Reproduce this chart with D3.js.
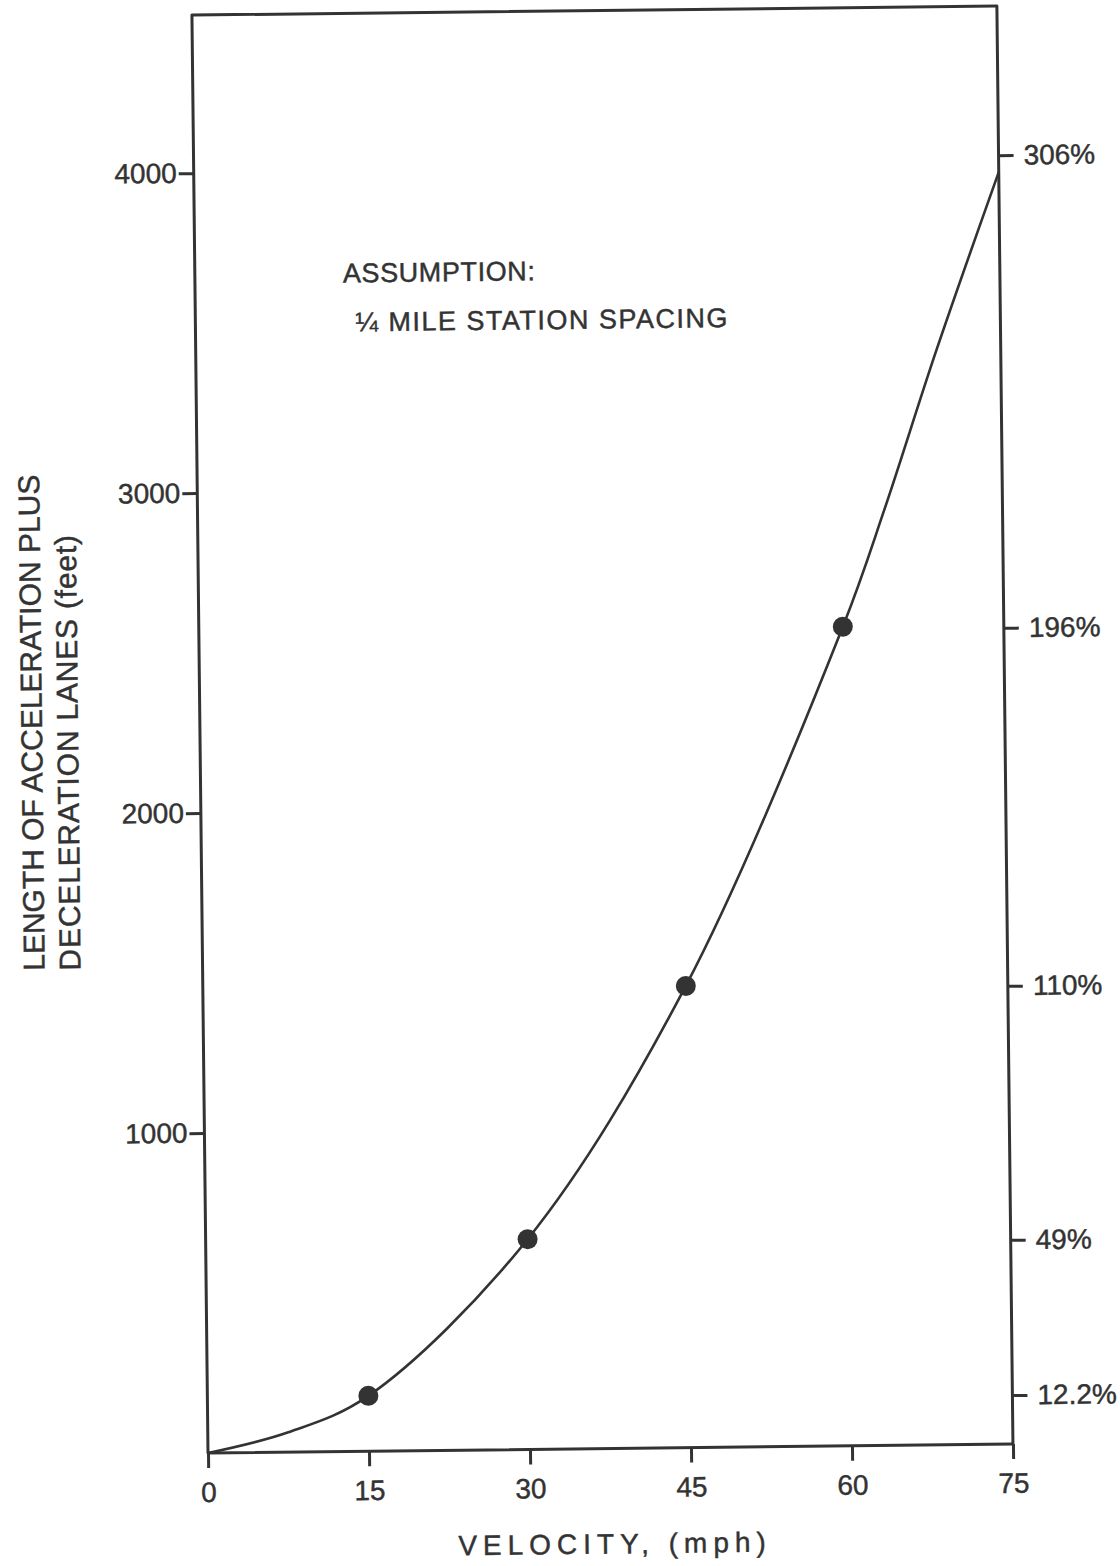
<!DOCTYPE html>
<html>
<head>
<meta charset="utf-8">
<script src="https://cdn.jsdelivr.net/npm/d3@7"></script>
<style>
  html, body { margin: 0; padding: 0; background: #fff; }
  svg { display: block; }
  text { font-family: "Liberation Sans", Arial, Helvetica, sans-serif; fill: #333; stroke: #333; stroke-width: 0.45px; }
</style>
</head>
<body>
<svg id="chart" width="1120" height="1566"></svg>
<script>
// Velocity axis ticks (mph)
const velocityTicks = [0, 15, 30, 45, 60, 75];
// Lane length axis ticks (feet)
const lengthTicks = [1000, 2000, 3000, 4000];

// Computed stations (dots)
const pointSpeeds = [15, 30, 45, 60];
const pointLengths = [173, 657, 1443, 2560];

// Smooth curve through the stations, out to 75 mph
const curveSpeeds = [0, 7.5, 15, 30, 45, 60, 64, 69, 75];
const curveLengths = [0, 62, 173, 657, 1443, 2560, 2925, 3420, 3975];

// Right-hand scale: length as a share of the 1/4 mile station spacing
const percentLabels = ["12.2%", "49%", "110%", "196%", "306%"];
const percentPositions = [153, 638, 1432, 2551, 4028];

const ink = "#333";
const plotLeft = 208, plotRight = 1013, plotTop = 15, plotBottom = 1453;

const svg = d3.select("#chart");
const g = svg.append("g").attr("transform", `rotate(-0.64 ${plotLeft} ${plotBottom})`);

const x = d3.scaleLinear().domain([0, 75]).range([plotLeft, plotRight]);
const y = d3.scaleLinear().domain([0, 4494]).range([plotBottom, plotTop]);

const fontFamily = "'Liberation Sans', Arial, sans-serif";

// Frame
g.append("path")
  .attr("d", `M${plotLeft},${plotBottom} V${plotTop} H${plotRight} V${plotBottom} Z`)
  .attr("fill", "none").attr("stroke", ink).attr("stroke-width", 3)
  .attr("stroke-linejoin", "round");

function styleAxis(a) {
  a.select(".domain").remove();
  a.selectAll("line").attr("stroke", ink).attr("stroke-width", 3);
  a.selectAll("text").attr("font-size", 28).attr("fill", ink).style("font-family", fontFamily);
}

// Bottom axis
g.append("g").attr("transform", `translate(0,${plotBottom})`)
  .call(d3.axisBottom(x).tickValues(velocityTicks).tickSize(15).tickPadding(14)
    .tickFormat(d3.format("d")))
  .call(styleAxis);

// Left axis
g.append("g").attr("transform", `translate(${plotLeft},0)`)
  .call(d3.axisLeft(y).tickValues(lengthTicks).tickSize(15).tickPadding(2)
    .tickFormat(d3.format("d")))
  .call(styleAxis);

// Right axis (percent of station spacing)
g.append("g").attr("transform", `translate(${plotRight},0)`)
  .call(d3.axisRight(y).tickValues(percentPositions).tickSize(15).tickPadding(10)
    .tickFormat((d, i) => percentLabels[i]))
  .call(styleAxis);

// Curve
const line = d3.line()
  .x((d, i) => x(curveSpeeds[i]))
  .y(d => y(d))
  .curve(d3.curveCatmullRom.alpha(0.5));
g.append("path")
  .attr("d", line(curveLengths))
  .attr("fill", "none").attr("stroke", ink).attr("stroke-width", 2.6);

// Station dots
g.selectAll("circle.station").data(pointLengths).join("circle")
  .attr("class", "station")
  .attr("cx", (d, i) => x(pointSpeeds[i]))
  .attr("cy", d => y(d))
  .attr("r", 10)
  .attr("fill", ink);

// Note
g.append("text").attr("x", 356).attr("y", 284)
  .attr("font-size", 27).attr("letter-spacing", 0.6)
  .text("ASSUMPTION:");
g.append("text").attr("x", 368).attr("y", 333)
  .attr("font-size", 27).attr("letter-spacing", 1.5)
  .text("¼ MILE STATION SPACING");

// Axis titles
g.append("text")
  .attr("x", 614).attr("y", 1558)
  .attr("text-anchor", "middle")
  .attr("font-size", 28).attr("letter-spacing", 6)
  .text("VELOCITY, (mph)");

const yTitle = g.append("text")
  .attr("transform", "translate(0,969) rotate(-90)")
  .attr("font-size", 30);
yTitle.append("tspan").attr("x", 0).attr("y", 50)
  .text("LENGTH OF ACCELERATION PLUS");
yTitle.append("tspan").attr("x", 0).attr("y", 86).attr("letter-spacing", 0.8)
  .text("DECELERATION LANES (feet)");
</script>
</body>
</html>
